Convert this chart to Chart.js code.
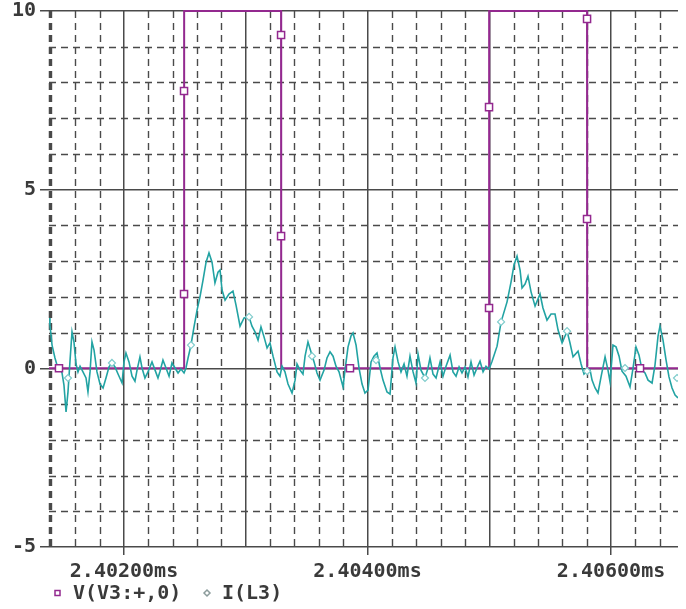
<!DOCTYPE html>
<html>
<head>
<meta charset="utf-8">
<script src="https://cdn.jsdelivr.net/npm/chart.js@4.4.1/dist/chart.umd.min.js"></script>
<style>
  body { margin: 0; background: #fff; }
  canvas { display: block; }
</style>
</head>
<body>
<canvas id="plot" width="686" height="609"></canvas>
<script>
// time axis in microseconds, shown as ms on the ticks
let xMin = 2401.384;
let xMax = 2406.55;
let xMajorTicks = [2402, 2403, 2404, 2405, 2406];
let xTickLabels = ['2.40200ms', '', '2.40400ms', '', '2.40600ms'];
let yMajorTicks = [-5, 0, 5, 10];
let yTickLabels = ['-5', '0', '5', '10'];
let yMinorTicks = [-4, -3, -2, -1, 1, 2, 3, 4, 6, 7, 8, 9];

// V(V3:+,0) - pulse source
let vTime  = [2401.384, 2402.493, 2402.494, 2403.290, 2403.291, 2404.998, 2404.999, 2405.803, 2405.804, 2406.550];
let vValue = [0, 0, 10, 10, 0, 0, 10, 10, 0, 0];
let vMarkTime  = [2401.466, 2402.493, 2402.493, 2403.290, 2403.290, 2403.856, 2404.998, 2404.998, 2405.803, 2405.803, 2406.238];
let vMarkValue = [0, 7.76, 2.08, 9.33, 3.70, 0, 7.31, 1.69, 9.78, 4.18, 0];

// I(L3) - inductor current
let iTime = [
  2401.384, 2401.392, 2401.409, 2401.433, 2401.450, 2401.474, 2401.491, 2401.507, 2401.524, 2401.540, 2401.556,
  2401.573, 2401.589, 2401.606, 2401.622, 2401.639, 2401.663, 2401.688, 2401.704, 2401.721, 2401.737,
  2401.754, 2401.778, 2401.803, 2401.828, 2401.852, 2401.877, 2401.901, 2401.926, 2401.951, 2401.984,
  2402.000, 2402.016, 2402.041, 2402.066, 2402.090, 2402.107, 2402.131, 2402.148, 2402.172, 2402.197,
  2402.230, 2402.255, 2402.279, 2402.296, 2402.320, 2402.345, 2402.370, 2402.394, 2402.419, 2402.444,
  2402.468, 2402.493, 2402.509, 2402.526, 2402.550, 2402.575, 2402.600, 2402.624, 2402.649, 2402.674,
  2402.698, 2402.723, 2402.747, 2402.772, 2402.789, 2402.805, 2402.830, 2402.862, 2402.895, 2402.920,
  2402.953, 2402.986, 2403.027, 2403.051, 2403.076, 2403.101, 2403.125, 2403.150, 2403.175, 2403.199,
  2403.224, 2403.257, 2403.281, 2403.298, 2403.322, 2403.347, 2403.380, 2403.405, 2403.421, 2403.446,
  2403.470, 2403.487, 2403.511, 2403.536, 2403.561, 2403.585, 2403.610, 2403.643, 2403.667, 2403.692,
  2403.717, 2403.741, 2403.766, 2403.799, 2403.815, 2403.840, 2403.864, 2403.881, 2403.906, 2403.930,
  2403.955, 2403.979, 2404.004, 2404.029, 2404.053, 2404.078, 2404.103, 2404.127, 2404.160, 2404.185,
  2404.209, 2404.226, 2404.251, 2404.275, 2404.300, 2404.324, 2404.349, 2404.374, 2404.398, 2404.415,
  2404.439, 2404.472, 2404.497, 2404.513, 2404.538, 2404.563, 2404.596, 2404.620, 2404.645, 2404.678,
  2404.702, 2404.727, 2404.752, 2404.776, 2404.801, 2404.825, 2404.850, 2404.875, 2404.899, 2404.924,
  2404.949, 2404.973, 2404.998, 2405.023, 2405.064, 2405.097, 2405.146, 2405.179, 2405.203, 2405.228,
  2405.253, 2405.269, 2405.294, 2405.318, 2405.343, 2405.376, 2405.417, 2405.441, 2405.474, 2405.507,
  2405.540, 2405.565, 2405.598, 2405.639, 2405.663, 2405.688, 2405.729, 2405.754, 2405.778, 2405.803,
  2405.828, 2405.844, 2405.869, 2405.893, 2405.918, 2405.951, 2405.975, 2405.992, 2406.016, 2406.041,
  2406.066, 2406.090, 2406.123, 2406.156, 2406.181, 2406.205, 2406.230, 2406.255, 2406.279, 2406.304,
  2406.337, 2406.361, 2406.386, 2406.402, 2406.427, 2406.452, 2406.476, 2406.501, 2406.526, 2406.550
];
let iValue = [
  1.41, 1.21, 0.65, 0.29, 0.09, 0.00, -0.13, -0.47, -1.22, -0.66, 0.18,
  1.02, 0.74, 0.12, -0.10, 0.06, -0.10, -0.27, -0.66, -0.10, 0.74,
  0.51, -0.10, -0.44, -0.55, -0.27, 0.04, 0.15, 0.04, -0.16, -0.41,
  0.18, 0.43, 0.18, -0.22, -0.36, -0.05, 0.32, 0.01, -0.27, -0.10,
  0.18, -0.05, -0.27, -0.08, 0.23, 0.01, -0.22, 0.15, 0.01, -0.13,
  -0.02, -0.13, 0.01, 0.29, 0.65, 1.16, 1.63, 2.00, 2.47, 2.97,
  3.23, 2.97, 2.39, 2.69, 2.75, 2.19, 1.91, 2.08, 2.16, 1.77,
  1.18, 1.41, 1.44, 1.18, 1.02, 0.79, 1.16, 0.88, 0.57, 0.71,
  0.34, -0.10, -0.22, 0.06, -0.10, -0.44, -0.69, -0.33, 0.12, -0.05,
  -0.16, 0.34, 0.74, 0.46, 0.18, -0.13, -0.33, -0.05, 0.29, 0.46,
  0.34, 0.06, -0.10, -0.52, -0.05, 0.60, 0.90, 0.99, 0.65, 0.01,
  -0.44, -0.69, -0.61, 0.18, 0.34, 0.43, 0.01, -0.33, -0.66, -0.72,
  0.29, 0.60, 0.18, -0.10, 0.12, -0.22, 0.34, -0.10, -0.41, 0.40,
  -0.05, -0.27, 0.01, 0.29, -0.16, -0.27, 0.18, -0.22, 0.06, 0.37,
  -0.10, -0.22, 0.04, -0.13, 0.04, -0.24, 0.18, -0.19, 0.01, 0.20,
  -0.10, 0.06, -0.02, 0.20, 0.62, 1.30, 1.86, 2.42, 2.89, 3.14,
  2.75, 2.25, 2.36, 2.58, 2.14, 1.74, 2.08, 1.69, 1.35, 1.52,
  1.52, 1.07, 0.71, 1.04, 0.71, 0.32, 0.48, 0.12, -0.16, -0.08,
  -0.05, -0.33, -0.55, -0.69, -0.24, 0.32, -0.05, -0.38, 0.65, 0.60,
  0.34, -0.08, -0.22, -0.52, 0.01, 0.60, 0.37, -0.05, -0.13, -0.33,
  -0.41, 0.09, 0.90, 1.18, 0.79, 0.23, -0.24, -0.55, -0.75, -0.83
];
let iMarkTime  = [2401.540, 2401.901, 2402.550, 2403.027, 2403.544, 2404.070, 2404.472, 2405.097, 2405.639, 2405.803, 2406.115, 2406.542];
let iMarkValue = [-0.27, 0.15, 0.65, 1.44, 0.34, 0.23, -0.27, 1.30, 1.04, -0.08, 0.01, -0.27];

let legendNames = ['V(V3:+,0)', 'I(L3)'];

let purple = '#93298f';
let teal = '#22a3a3';
let gridColor = '#4a4a4a';
let textColor = '#3a3a3a';
let monoFont = { family: '"DejaVu Sans Mono", "Liberation Mono", monospace', size: 20, weight: 'bold' };

function toPoints(xs, ys) {
  return xs.map((t, i) => ({ x: t, y: ys[i] }));
}

// minor grid every 0.2us / 1 unit
let xMinorTicks = [];
for (let k = 0; k <= 25; k++) {
  let v = +(2401.4 + k * 0.2).toFixed(1);
  if (!xMajorTicks.includes(v)) xMinorTicks.push(v);
}

const minorGrid = {
  id: 'minorGrid',
  beforeDatasetsDraw(chart) {
    let { ctx, chartArea: a, scales: { x, y } } = chart;
    ctx.save();
    ctx.strokeStyle = gridColor;
    ctx.setLineDash([7, 5]);
    // left edge, dashed like the grid
    ctx.lineWidth = 2.5;
    ctx.beginPath();
    ctx.moveTo(a.left + 1, a.top);
    ctx.lineTo(a.left + 1, a.bottom);
    ctx.stroke();
    ctx.lineWidth = 1.4;
    xMinorTicks.forEach(v => {
      let px = Math.round(x.getPixelForValue(v)) + 0.5;
      ctx.beginPath();
      ctx.moveTo(px, a.top);
      ctx.lineTo(px, a.bottom);
      ctx.stroke();
    });
    yMinorTicks.forEach(v => {
      let py = Math.round(y.getPixelForValue(v)) + 0.5;
      ctx.beginPath();
      ctx.moveTo(a.left, py);
      ctx.lineTo(a.right, py);
      ctx.stroke();
    });
    ctx.restore();
  }
};

const bottomLegend = {
  id: 'bottomLegend',
  afterDraw(chart) {
    let ctx = chart.ctx;
    ctx.save();
    ctx.font = 'bold 20px "DejaVu Sans Mono", monospace';
    ctx.fillStyle = textColor;
    ctx.textBaseline = 'middle';
    ctx.fillText(legendNames[0], 73, 594);
    ctx.fillText(legendNames[1], 222, 594);
    ctx.lineWidth = 1.5;
    ctx.strokeStyle = purple;
    ctx.strokeRect(55, 590.5, 5, 5);
    ctx.strokeStyle = '#8c9c9c';
    ctx.beginPath();
    ctx.moveTo(207, 590);
    ctx.lineTo(210, 593);
    ctx.lineTo(207, 596);
    ctx.lineTo(204, 593);
    ctx.closePath();
    ctx.stroke();
    ctx.restore();
  }
};

new Chart(document.getElementById('plot'), {
  type: 'line',
  data: {
    datasets: [
      {
        label: 'V markers',
        data: toPoints(vMarkTime, vMarkValue),
        showLine: false,
        pointStyle: 'rect',
        pointRadius: 5,
        pointBorderWidth: 1.5,
        pointBorderColor: purple,
        pointBackgroundColor: '#fff',
        clip: 6,
        order: 0
      },
      {
        label: 'I markers',
        data: toPoints(iMarkTime, iMarkValue),
        showLine: false,
        pointStyle: 'rectRot',
        pointRadius: 3.5,
        pointBorderWidth: 1.2,
        pointBorderColor: '#7fcccc',
        pointBackgroundColor: '#fff',
        order: 1
      },
      {
        label: legendNames[1],
        data: toPoints(iTime, iValue),
        borderColor: teal,
        borderWidth: 1.6,
        pointRadius: 0,
        tension: 0,
        order: 2
      },
      {
        label: legendNames[0],
        data: toPoints(vTime, vValue),
        borderColor: purple,
        borderWidth: 2,
        pointRadius: 0,
        tension: 0,
        clip: 4,
        order: 3
      }
    ]
  },
  options: {
    responsive: false,
    animation: false,
    events: [],
    layout: { padding: { top: 11, right: 8, left: 0, bottom: 0 } },
    plugins: { legend: { display: false }, tooltip: { enabled: false } },
    scales: {
      x: {
        type: 'linear',
        min: xMin,
        max: xMax,
        afterBuildTicks: s => { s.ticks = xMajorTicks.map(v => ({ value: v })); },
        afterFit: s => { s.height = 62; s.paddingLeft = 0; s.paddingRight = 0; },
        ticks: {
          autoSkip: false,
          maxRotation: 0,
          padding: 5,
          color: textColor,
          font: monoFont,
          callback: (v, i) => xTickLabels[i]
        },
        grid: {
          color: gridColor,
          lineWidth: 1.5,
          tickLength: 8,
          tickColor: c => xTickLabels[c.index] ? gridColor : 'rgba(0,0,0,0)'
        },
        border: { display: false }
      },
      y: {
        min: -5,
        max: 10,
        afterBuildTicks: s => { s.ticks = yMajorTicks.map(v => ({ value: v })); },
        afterFit: s => { s.width = 49; s.paddingTop = 0; s.paddingBottom = 0; },
        ticks: {
          padding: 4,
          color: textColor,
          font: monoFont,
          callback: (v, i) => yTickLabels[i]
        },
        grid: {
          color: gridColor,
          lineWidth: 1.5,
          tickLength: 9
        },
        border: { display: false }
      }
    }
  },
  plugins: [minorGrid, bottomLegend]
});
</script>
</body>
</html>
